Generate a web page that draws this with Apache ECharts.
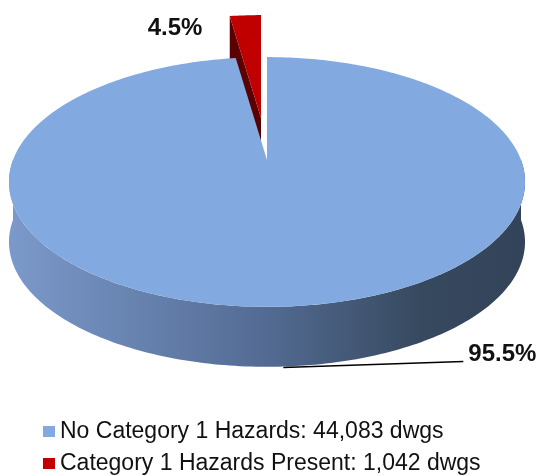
<!DOCTYPE html>
<html>
<head>
<meta charset="utf-8">
<script src="https://cdn.jsdelivr.net/npm/echarts@6/dist/echarts.min.js"></script>
<style>
  html, body { margin: 0; padding: 0; background: #fff; }
  #chart { width: 541px; height: 476px; }
</style>
</head>
<body>
<div id="chart"></div>
<script>
const categories = ['No Category 1 Hazards', 'Category 1 Hazards Present']
const dwellings = [44083, 1042]
const pctLabels = ['95.5%', '4.5%']

const sliceColors = ['#82a9e0', '#c00000']
const cutColors = ['#3d5478', '#5a0000']
const wallStops = [
  [[0, '#7b99ca'], [0.5, '#536b93'], [0.8, '#37495f'], [1, '#33445a']],
  [[0, '#a00000'], [1, '#500000']],
]
const exploded = [false, true]

const total = dwellings.reduce((a, b) => a + b, 0)
const starts = dwellings.map((_, i) => dwellings.slice(0, i).reduce((a, b) => a + b, 0) / total * 360)

// pie geometry in px, slight perspective so the far side looks smaller
const cx = 267, cy = 160, rx = 254, ry = 121, persp = 0.176, depth = 60
const explodeShift = [-6, -42]
const labelFont = 'bold 24px "Liberation Sans", Arial, sans-serif'

const rad = Math.PI / 180
const project = (deg, r, z, dx, dy) => {
  const X = r * Math.sin(deg * rad)
  const Y = -r * Math.cos(deg * rad)
  const w = 1 - persp * Y
  return [cx + rx * X / w + dx, cy + ry * Y / w + z + dy]
}
const arc = (a0, a1, z, dx, dy) => {
  const pts = []
  const n = Math.max(2, Math.ceil(Math.abs(a1 - a0)))
  for (let j = 0; j <= n; j++) pts.push(project(a0 + (a1 - a0) * j / n, 1, z, dx, dy))
  return pts
}
const halfW = rx / Math.sqrt(1 - persp * persp)

const renderSlice = (i) => (params, api) => {
  const a0 = starts[i]
  const a1 = a0 + api.value(0) / total * 360
  const [dx, dy] = exploded[i] ? explodeShift : [0, 0]
  const children = []

  // outer wall, only the front half can be seen
  const w0 = Math.max(a0, 90)
  const w1 = Math.min(a1, 270)
  if (w1 > w0) {
    children.push({
      type: 'polygon',
      shape: { points: arc(w0, w1, 0, dx, dy).concat(arc(w1, w0, depth, dx, dy)) },
      style: {
        fill: new echarts.graphic.LinearGradient(cx - halfW + dx, 0, cx + halfW + dx, 0,
          wallStops[i].map(([offset, color]) => ({ offset, color })), true),
      },
    })
  }

  // radial cut faces that turn toward the viewer
  ;[[a0, a0 - 90], [a1, a1 + 90]].forEach(([a, n]) => {
    if (-Math.cos(n * rad) > 0.01) {
      children.push({
        type: 'polygon',
        shape: {
          points: [project(0, 0, 0, dx, dy), project(a, 1, 0, dx, dy),
            project(a, 1, depth, dx, dy), project(0, 0, depth, dx, dy)],
        },
        style: { fill: cutColors[i] },
      })
    }
  })

  // top face
  children.push({
    type: 'polygon',
    shape: { points: [project(0, 0, 0, dx, dy)].concat(arc(a0, a1, 0, dx, dy)) },
    style: { fill: sliceColors[i] },
  })

  // percentage label
  const mid = (a0 + a1) / 2
  if (mid > 90 && mid < 270) {
    const p = project(mid, 1, depth, dx, dy)
    const start = [p[0] - 6, p[1] + 1]
    const end = [p[0] + 174, p[1] - 5]
    children.push({
      type: 'polyline',
      shape: { points: [start, end] },
      style: { stroke: '#000', lineWidth: 1.5, fill: null },
    })
    children.push({
      type: 'text', x: end[0] + 5, y: end[1] - 7,
      style: { text: pctLabels[i], font: labelFont, fill: '#111', align: 'left', verticalAlign: 'middle' },
    })
  } else {
    const p = project(mid, 1, 0, dx, dy)
    children.push({
      type: 'text', x: p[0] - 43, y: p[1] + 13,
      style: { text: pctLabels[i], font: labelFont, fill: '#111', align: 'right', verticalAlign: 'middle' },
    })
  }

  return { type: 'group', children }
}

const chart = echarts.init(document.getElementById('chart'))
chart.setOption({
  animation: false,
  legend: {
    orient: 'vertical',
    left: 38,
    top: 415,
    height: 80,
    data: categories,
    icon: 'rect',
    itemWidth: 12,
    itemHeight: 11,
    itemGap: 9,
    selectedMode: false,
    textStyle: { fontSize: 23, lineHeight: 23, color: '#111', fontFamily: '"Liberation Sans", Arial, sans-serif' },
    formatter: (name) => `${name}: ${dwellings[categories.indexOf(name)].toLocaleString('en-US')} dwgs`,
  },
  series: categories.map((name, i) => ({
    name,
    type: 'custom',
    coordinateSystem: 'none',
    z: exploded[i] ? 1 : 2,
    itemStyle: { color: sliceColors[i] },
    renderItem: renderSlice(i),
    data: [dwellings[i]],
  })),
})
</script>
</body>
</html>
